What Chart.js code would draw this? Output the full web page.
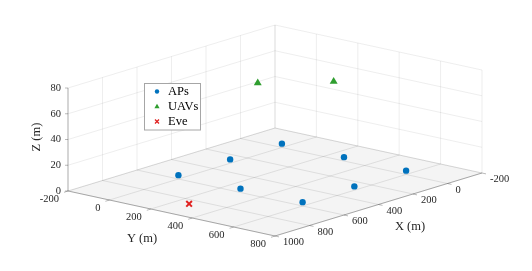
<!DOCTYPE html>
<html>
<head>
<meta charset="utf-8">
<script src="https://cdn.jsdelivr.net/npm/chart.js@4.4.0/dist/chart.umd.min.js"></script>
<style>
body { margin: 0; background: #fff; }
#wrap { width: 532px; height: 271px; position: relative; }
</style>
</head>
<body>
<div id="wrap"><canvas id="chart"></canvas></div>
<script>
// node positions in metres
const apX = [0, 300, 600, 0, 600, 0, 300, 600];
const apY = [0, 0, 0, 300, 300, 600, 600, 600];
const apZ = [3, 3, 3, 3, 3, 3, 3, 3];
const uavX = [200, 0];
const uavY = [50, 250];
const uavZ = [60, 60];
const eveX = [850];
const eveY = [260];
const eveZ = [0];

const xTicks = [-200, 0, 200, 400, 600, 800, 1000];
const yTicks = [-200, 0, 200, 400, 600, 800];
const zTicks = [0, 20, 40, 60, 80];
const seriesNames = ['APs', 'UAVs', 'Eve'];

const xLim = [xTicks[0], xTicks[xTicks.length - 1]];
const yLim = [yTicks[0], yTicks[yTicks.length - 1]];
const zLim = [zTicks[0], zTicks[zTicks.length - 1]];

// fixed camera: screen spot of the back-bottom corner and the three box edges
const view = { ox: 275, oy: 128, ex: [-207, 63], ey: [207, 45], ez: [0, -103] };

function project(x, y, z) {
    const u = (x - xLim[0]) / (xLim[1] - xLim[0]);
    const v = (y - yLim[0]) / (yLim[1] - yLim[0]);
    const w = (z - zLim[0]) / (zLim[1] - zLim[0]);
    return {
        x: view.ox + u * view.ex[0] + v * view.ey[0] + w * view.ez[0],
        y: view.oy + u * view.ex[1] + v * view.ey[1] + w * view.ez[1]
    };
}

function toPoints(xs, ys, zs) {
    return xs.map((x, i) => project(x, ys[i], zs[i]));
}

const colors = { ap: '#0072BD', uav: '#2f9e2f', eve: '#e0201f' };
const FONT = '"Liberation Serif", "DejaVu Serif", serif';

const box3d = {
    id: 'box3d',
    beforeDatasetsDraw(chart) {
        const ctx = chart.ctx;
        const xs = chart.scales.x, ys = chart.scales.y;
        const P = (x, y, z) => {
            const p = project(x, y, z);
            return [xs.getPixelForValue(p.x), ys.getPixelForValue(p.y)];
        };
        const line = (a, b) => {
            ctx.beginPath();
            ctx.moveTo(a[0], a[1]);
            ctx.lineTo(b[0], b[1]);
            ctx.stroke();
        };
        ctx.save();

        // floor pane
        const c1 = P(xLim[0], yLim[0], 0), c2 = P(xLim[1], yLim[0], 0);
        const c3 = P(xLim[1], yLim[1], 0), c4 = P(xLim[0], yLim[1], 0);
        ctx.fillStyle = '#f4f4f4';
        ctx.beginPath();
        ctx.moveTo(c1[0], c1[1]);
        ctx.lineTo(c2[0], c2[1]);
        ctx.lineTo(c3[0], c3[1]);
        ctx.lineTo(c4[0], c4[1]);
        ctx.closePath();
        ctx.fill();

        // grid
        ctx.lineWidth = 0.8;
        ctx.strokeStyle = 'rgba(38,38,38,0.1)';
        xTicks.forEach(x => line(P(x, yLim[0], zLim[0]), P(x, yLim[0], zLim[1])));
        yTicks.forEach(y => line(P(xLim[0], y, zLim[0]), P(xLim[0], y, zLim[1])));
        zTicks.forEach(z => {
            line(P(xLim[0], yLim[0], z), P(xLim[1], yLim[0], z));
            line(P(xLim[0], yLim[0], z), P(xLim[0], yLim[1], z));
        });
        ctx.strokeStyle = 'rgba(38,38,38,0.14)';
        xTicks.forEach(x => line(P(x, yLim[0], 0), P(x, yLim[1], 0)));
        yTicks.forEach(y => line(P(xLim[0], y, 0), P(xLim[1], y, 0)));

        // axis lines and ticks
        ctx.strokeStyle = 'rgba(38,38,38,0.4)';
        ctx.lineWidth = 0.8;
        line(P(xLim[1], yLim[0], zLim[0]), P(xLim[1], yLim[0], zLim[1]));
        line(P(xLim[1], yLim[0], 0), P(xLim[1], yLim[1], 0));
        line(P(xLim[1], yLim[1], 0), P(xLim[0], yLim[1], 0));

        ctx.fillStyle = '#262626';
        ctx.font = '10.5px ' + FONT;
        ctx.textBaseline = 'middle';

        ctx.textAlign = 'right';
        zTicks.forEach(z => {
            const p = P(xLim[1], yLim[0], z);
            line(p, [p[0] - 3, p[1]]);
            ctx.fillText(String(z), p[0] - 7, p[1]);
        });
        yTicks.forEach(y => {
            const p = P(xLim[1], y, 0);
            line(p, [p[0] - 4, p[1] + 1.3]);
            ctx.fillText(String(y), p[0] - 9, p[1] + 8.5);
        });
        ctx.textAlign = 'left';
        xTicks.forEach(x => {
            const p = P(x, yLim[1], 0);
            line(p, [p[0] + 4, p[1] + 0.9]);
            ctx.fillText(String(x), p[0] + 8, p[1] + 6.5);
        });

        // axis titles
        ctx.font = '12.5px ' + FONT;
        ctx.textAlign = 'center';
        ctx.fillText('X (m)', 410, 227);
        ctx.fillText('Y (m)', 142, 239);
        ctx.save();
        ctx.translate(37, 137);
        ctx.rotate(-Math.PI / 2);
        ctx.fillText('Z (m)', 0, 0);
        ctx.restore();

        ctx.restore();
    },
    afterDatasetsDraw(chart) {
        const ctx = chart.ctx;
        ctx.save();
        ctx.fillStyle = '#fff';
        ctx.fillRect(144.5, 83.5, 56, 46.5);
        ctx.strokeStyle = '#a6a6a6';
        ctx.lineWidth = 1;
        ctx.strokeRect(144.5, 83.5, 56, 46.5);

        const rows = [91.5, 106.5, 121.5];
        const mx = 157;
        // APs
        ctx.fillStyle = colors.ap;
        ctx.beginPath();
        ctx.arc(mx, rows[0], 2.2, 0, Math.PI * 2);
        ctx.fill();
        // UAVs
        ctx.fillStyle = colors.uav;
        ctx.beginPath();
        ctx.moveTo(mx, rows[1] - 2.8);
        ctx.lineTo(mx + 2.6, rows[1] + 1.8);
        ctx.lineTo(mx - 2.6, rows[1] + 1.8);
        ctx.closePath();
        ctx.fill();
        // Eve
        ctx.strokeStyle = colors.eve;
        ctx.lineWidth = 1.3;
        ctx.beginPath();
        ctx.moveTo(mx - 2, rows[2] - 2);
        ctx.lineTo(mx + 2, rows[2] + 2);
        ctx.moveTo(mx + 2, rows[2] - 2);
        ctx.lineTo(mx - 2, rows[2] + 2);
        ctx.stroke();

        ctx.fillStyle = '#000';
        ctx.font = '12.5px ' + FONT;
        ctx.textAlign = 'left';
        ctx.textBaseline = 'middle';
        seriesNames.forEach((n, i) => ctx.fillText(n, 168, rows[i]));
        ctx.restore();
    }
};

new Chart(document.getElementById('chart'), {
    type: 'scatter',
    data: {
        datasets: [
            {
                label: seriesNames[0],
                data: toPoints(apX, apY, apZ),
                pointStyle: 'circle',
                pointRadius: 3.2,
                backgroundColor: colors.ap,
                borderColor: colors.ap,
                borderWidth: 0
            },
            {
                label: seriesNames[1],
                data: toPoints(uavX, uavY, uavZ),
                pointStyle: 'triangle',
                pointRadius: 4.6,
                backgroundColor: colors.uav,
                borderColor: colors.uav,
                borderWidth: 0
            },
            {
                label: seriesNames[2],
                data: toPoints(eveX, eveY, eveZ),
                pointStyle: 'crossRot',
                pointRadius: 4,
                borderColor: colors.eve,
                borderWidth: 2
            }
        ]
    },
    options: {
        responsive: true,
        maintainAspectRatio: false,
        animation: false,
        layout: { padding: 0, autoPadding: false },
        clip: false,
        scales: {
            x: { type: 'linear', min: 0, max: 532, display: false },
            y: { type: 'linear', min: 0, max: 271, reverse: true, display: false }
        },
        plugins: {
            legend: { display: false },
            tooltip: { enabled: false }
        }
    },
    plugins: [box3d]
});
</script>
</body>
</html>
